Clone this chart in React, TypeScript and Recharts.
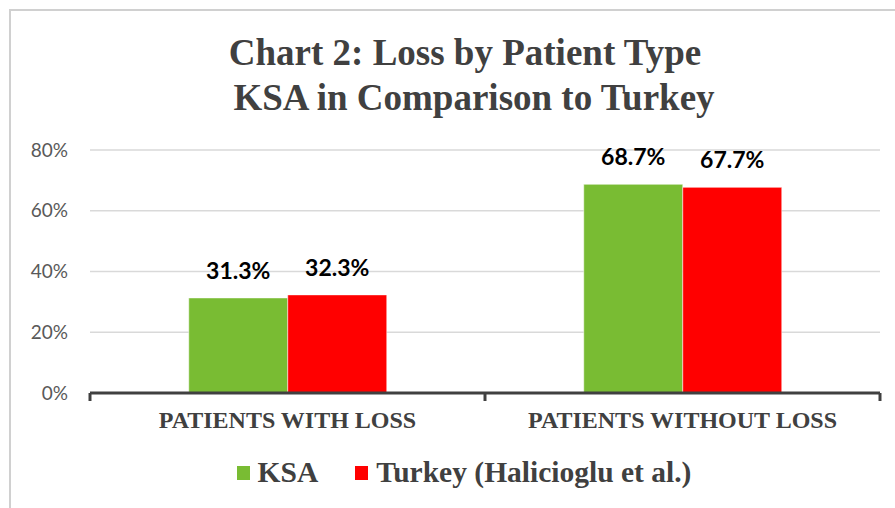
import React from "react";
import {
  BarChart,
  Bar,
  XAxis,
  YAxis,
  CartesianGrid,
  LabelList,
  usePlotArea,
} from "recharts";

const categories = ["PATIENTS WITH LOSS", "PATIENTS WITHOUT LOSS"];
const ksa = [31.3, 68.7];
const turkey = [32.3, 67.7];
const yTicks = [0, 20, 40, 60, 80];
const series = [
  { key: "ksa", name: "KSA", color: "#79bc33" },
  { key: "turkey", name: "Turkey (Halicioglu et al.)", color: "#ff0000" },
];

const data = categories.map((c, i) => ({ name: c, ksa: ksa[i], turkey: turkey[i] }));

const serif = '"Liberation Serif", "Times New Roman", serif';
const sans = 'Lato, "Liberation Sans", sans-serif';

// tick marks sit on category boundaries, like Excel
function BoundaryTicks() {
  const area = usePlotArea();
  if (!area) return null;
  const n = categories.length;
  const bottom = area.y + area.height;
  return (
    <g>
      {Array.from({ length: n + 1 }, (_, i) => {
        const x = area.x + (area.width * i) / n;
        return <line key={i} x1={x} x2={x} y1={bottom} y2={bottom + 8} stroke="#404040" strokeWidth={3} />;
      })}
    </g>
  );
}

export default function App() {
  return (
    <div style={{ position: "absolute", left: 0, top: 0, width: 895, height: 508, background: "#fff", overflow: "hidden" }}>
      <div
        style={{
          position: "absolute",
          left: 9,
          top: 9,
          width: 900,
          height: 520,
          borderLeft: "2px solid #d0d0d0",
          borderTop: "2px solid #d0d0d0",
        }}
      />
      <div
        style={{
          position: "absolute",
          left: 0,
          top: 30,
          width: 930,
          textAlign: "center",
          fontFamily: serif,
          fontWeight: "bold",
          fontSize: 37,
          lineHeight: "45px",
          color: "#404040",
        }}
      >
        <div>Chart 2: Loss by Patient Type</div>
        <div style={{ paddingLeft: 18 }}>KSA in Comparison to Turkey</div>
      </div>
      <BarChart
        width={895}
        height={508}
        data={data}
        margin={{ top: 150, right: 15, left: 10, bottom: 75 }}
        barCategoryGap="25%"
        barGap={0}
        style={{ position: "absolute", left: 0, top: 0 }}
      >
        <CartesianGrid vertical={false} stroke="#d9d9d9" strokeWidth={1.5} />
        <XAxis
          dataKey="name"
          height={40}
          axisLine={{ stroke: "#404040", strokeWidth: 3 }}
          tickLine={false}
          tickSize={0}
          tickMargin={18}
          tick={{ fontFamily: serif, fontWeight: "bold", fontSize: 24, fill: "#404040" }}
        />
        <YAxis
          width={80}
          domain={[0, 80]}
          ticks={yTicks}
          axisLine={false}
          tickLine={false}
          tickSize={0}
          tickMargin={22}
          tickFormatter={(v) => `${v}%`}
          tick={{ fontFamily: sans, fontSize: 19, fill: "#595959" }}
        />
        {series.map((s) => (
          <Bar
            key={s.key}
            dataKey={s.key}
            name={s.name}
            fill={s.color}
            stroke="#ffffff"
            strokeOpacity={0.5}
            strokeWidth={1}
            isAnimationActive={false}
          >
            <LabelList
              dataKey={s.key}
              position="top"
              offset={19}
              formatter={(v: number) => `${v.toFixed(1)}%`}
              style={{ fontFamily: sans, fontWeight: "bold", fontSize: 23, fill: "#000" }}
            />
          </Bar>
        ))}
        <BoundaryTicks />
      </BarChart>
      <div
        style={{
          position: "absolute",
          left: 0,
          top: 456,
          width: 928,
          display: "flex",
          justifyContent: "center",
          alignItems: "center",
          fontFamily: serif,
          fontWeight: "bold",
          fontSize: 29.5,
          color: "#404040",
        }}
      >
        {series.map((s, i) => (
          <div key={s.key} style={{ display: "flex", alignItems: "center", marginLeft: i ? 37 : 0 }}>
            <span style={{ display: "inline-block", width: 13, height: 14, background: s.color, marginRight: 8 }} />
            <span>{s.name}</span>
          </div>
        ))}
      </div>
    </div>
  );
}
